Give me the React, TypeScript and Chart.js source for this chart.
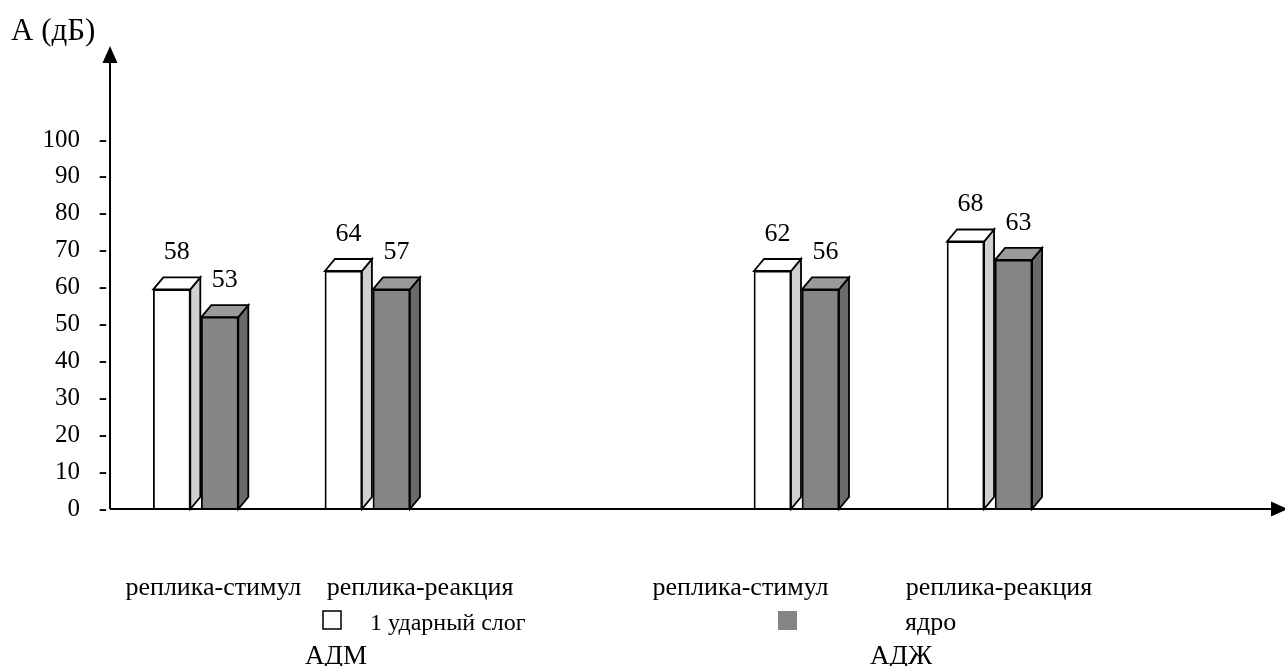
import React, { useEffect, useRef } from 'react';
import { Chart, registerables } from 'chart.js';

Chart.register(...registerables);

// ---- data ----
const categories = ['реплика-стимул', 'реплика-реакция', 'реплика-стимул', 'реплика-реакция'];
const groupNames = ['АДМ', 'АДЖ'];
const seriesNames = ['1 ударный слог', 'ядро'];
// bar heights as drawn in the picture
const stressedHeights = [59.5, 64.5, 64.5, 72.5];
const nucleusHeights = [52, 59.5, 59.5, 67.5];
// value labels as printed in the picture
const stressedLabels = ['58', '64', '62', '68'];
const nucleusLabels = ['53', '57', '56', '63'];
const yTicks = [0, 10, 20, 30, 40, 50, 60, 70, 80, 90, 100];
const yTitle = 'А (дБ)';

// ---- layout ----
const BAR_SLOTS = 54; // category grid used to place the bar pairs
const barSlots = [4, 12, 32, 41];
const LABEL_MAX = 110; // fine grid used to place the category texts
const labelSlots = [10, 30, 61, 86];
const DX = 10;
const DY = 12;
const FONT = '"Liberation Serif", "Times New Roman", serif';
const FRONT = ['#ffffff', '#858585'];
const SIDE = ['#d0d0d0', '#6a6a6a'];
const TOP = ['#ffffff', '#9a9a9a'];

const slotLabels: string[] = Array.from({ length: BAR_SLOTS }, (_, i) => String(i));
function toSlots<T>(values: T[]) {
  const arr: (T | null)[] = Array.from({ length: BAR_SLOTS }, () => null);
  barSlots.forEach((s, i) => (arr[s] = values[i]));
  return arr;
}
const slotValueLabels = [toSlots(stressedLabels), toSlots(nucleusLabels)];

const threeD = {
  id: 'threeD',
  beforeDatasetsDraw(chart: any) {
    const ctx = chart.ctx;
    chart.data.datasets.forEach((_ds: any, di: number) => {
      const meta = chart.getDatasetMeta(di);
      meta.data.forEach((el: any) => {
        const { x, y, base, width } = el.getProps(['x', 'y', 'base', 'width'], true);
        if (y == null || isNaN(y) || isNaN(x)) return;
        if (Math.abs(base - y) < 0.5) return;
        const l = x - width / 2;
        const r = x + width / 2;
        ctx.save();
        ctx.lineWidth = 1.8;
        ctx.strokeStyle = '#000';
        ctx.lineJoin = 'miter';
        ctx.beginPath();
        ctx.moveTo(r, y);
        ctx.lineTo(r + DX, y - DY);
        ctx.lineTo(r + DX, base - DY);
        ctx.lineTo(r, base);
        ctx.closePath();
        ctx.fillStyle = SIDE[di];
        ctx.fill();
        ctx.stroke();
        ctx.beginPath();
        ctx.moveTo(l, y);
        ctx.lineTo(l + DX, y - DY);
        ctx.lineTo(r + DX, y - DY);
        ctx.lineTo(r, y);
        ctx.closePath();
        ctx.fillStyle = TOP[di];
        ctx.fill();
        ctx.stroke();
        ctx.restore();
      });
    });
  },
  afterDatasetsDraw(chart: any) {
    const ctx = chart.ctx;
    ctx.save();
    ctx.font = `26px ${FONT}`;
    ctx.fillStyle = '#000';
    ctx.textAlign = 'center';
    ctx.textBaseline = 'alphabetic';
    chart.data.datasets.forEach((_ds: any, di: number) => {
      const meta = chart.getDatasetMeta(di);
      meta.data.forEach((el: any, i: number) => {
        const txt = slotValueLabels[di][i];
        if (txt == null) return;
        const { x, y } = el.getProps(['x', 'y'], true);
        ctx.fillText(txt, x + DX / 2, y - DY - 18);
      });
    });
    ctx.restore();
  },
  afterDraw(chart: any) {
    const ctx = chart.ctx;
    const { left, bottom } = chart.chartArea;
    ctx.save();
    ctx.strokeStyle = '#000';
    ctx.fillStyle = '#000';
    ctx.lineWidth = 2;
    // y axis with arrow
    ctx.beginPath();
    ctx.moveTo(left, bottom);
    ctx.lineTo(left, 60);
    ctx.stroke();
    ctx.beginPath();
    ctx.moveTo(left, 46);
    ctx.lineTo(left - 7.5, 63);
    ctx.lineTo(left + 7.5, 63);
    ctx.closePath();
    ctx.fill();
    // x axis with arrow
    ctx.beginPath();
    ctx.moveTo(left, bottom);
    ctx.lineTo(1272, bottom);
    ctx.stroke();
    ctx.beginPath();
    ctx.moveTo(1288, bottom);
    ctx.lineTo(1271, bottom - 7.5);
    ctx.lineTo(1271, bottom + 7.5);
    ctx.closePath();
    ctx.fill();

    // axis title
    ctx.font = `31px ${FONT}`;
    ctx.textAlign = 'left';
    ctx.textBaseline = 'alphabetic';
    ctx.fillText(yTitle, 11, 40);

    // legend
    ctx.font = `24px ${FONT}`;
    ctx.lineWidth = 1.5;
    ctx.fillStyle = FRONT[0];
    ctx.fillRect(323, 611, 18, 18);
    ctx.strokeRect(323, 611, 18, 18);
    ctx.fillStyle = FRONT[1];
    ctx.fillRect(778, 611, 19, 19);
    ctx.fillStyle = '#000';
    ctx.fillText(seriesNames[0], 370, 630);
    ctx.font = `26px ${FONT}`;
    ctx.fillText(seriesNames[1], 905, 630);
    // group names
    ctx.font = `27px ${FONT}`;
    ctx.fillText(groupNames[0], 305, 664);
    ctx.fillText(groupNames[1], 870, 664);
    ctx.restore();
  },
};

export default function App() {
  const ref = useRef<HTMLCanvasElement | null>(null);
  useEffect(() => {
    document.body.style.margin = '0';
    if (!ref.current) return;
    const chart = new Chart(ref.current, {
      type: 'bar',
      data: {
        labels: slotLabels,
        datasets: [
          {
            label: seriesNames[0],
            data: toSlots(stressedHeights),
            backgroundColor: FRONT[0],
            borderColor: '#000',
            borderWidth: 1.8,
            barThickness: 48,
            maxBarThickness: 37,
          },
          {
            label: seriesNames[1],
            data: toSlots(nucleusHeights),
            backgroundColor: FRONT[1],
            borderColor: '#000',
            borderWidth: 1.8,
            barThickness: 48,
            maxBarThickness: 37,
          },
        ],
      },
      options: {
        responsive: false,
        animation: false,
        devicePixelRatio: 1,
        layout: { padding: { top: 140, left: 0, right: 38, bottom: 0 } },
        plugins: { legend: { display: false }, tooltip: { enabled: false }, title: { display: false } },
        scales: {
          x: {
            type: 'category',
            offset: false,
            display: false,
          },
          xl: {
            type: 'linear',
            position: 'bottom',
            offset: false,
            min: 0,
            max: LABEL_MAX,
            grid: { display: false, offset: false },
            border: { display: false },
            afterBuildTicks: (scale: any) => {
              scale.ticks = labelSlots.map((v) => ({ value: v }));
            },
            ticks: {
              autoSkip: false,
              maxRotation: 0,
              minRotation: 0,
              padding: 56,
              color: '#000',
              font: { family: FONT, size: 26 },
              callback: (v: any) => {
                const i = labelSlots.indexOf(Number(v));
                return i >= 0 ? categories[i] : '';
              },
            },
            afterFit: (scale: any) => {
              scale.height = 157;
            },
          },
          y: {
            min: 0,
            max: 100,
            afterBuildTicks: (scale: any) => {
              scale.ticks = yTicks.map((v) => ({ value: v }));
            },
            grid: { display: false, drawTicks: false },
            border: { display: false },
            ticks: {
              padding: 3,
              color: '#000',
              font: { family: FONT, size: 25 },
              callback: (v: any) => `${v}   -`,
            },
            afterFit: (scale: any) => {
              scale.width = 110;
            },
          },
        },
      },
      plugins: [threeD],
    });
    return () => chart.destroy();
  }, []);
  return (
    <div style={{ width: 1285, height: 666, background: '#fff' }}>
      <canvas ref={ref} width={1285} height={666} style={{ display: 'block' }} />
    </div>
  );
}
